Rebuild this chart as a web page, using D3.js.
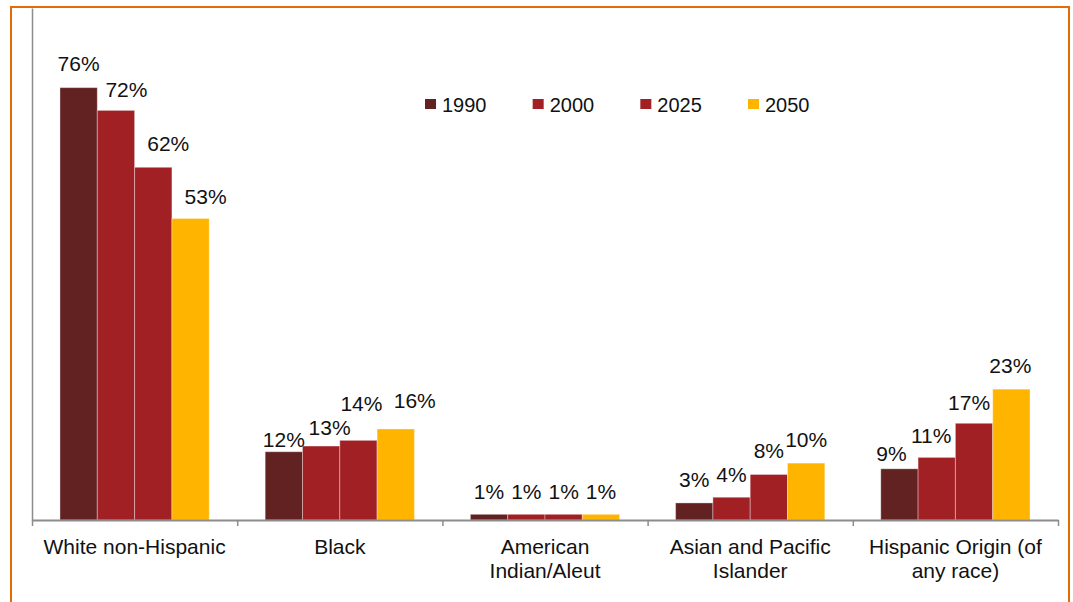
<!DOCTYPE html>
<html><head><meta charset="utf-8">
<script src="https://cdn.jsdelivr.net/npm/d3@7/dist/d3.min.js"></script>
<style>
html,body{margin:0;padding:0;background:#fff;}
svg{display:block;font-family:"Liberation Sans",Arial,sans-serif;}
</style></head>
<body>
<svg id="chart" width="1073" height="602"></svg>
<script>
const categories = [["White non-Hispanic"], ["Black"], ["American", "Indian/Aleut"], ["Asian and Pacific", "Islander"], ["Hispanic Origin (of", "any race)"]];
const seriesNames = ["1990", "2000", "2025", "2050"];
const v1990 = [0.76, 0.12, 0.01, 0.03, 0.09];
const v2000 = [0.72, 0.13, 0.01, 0.04, 0.11];
const v2025 = [0.62, 0.14, 0.01, 0.08, 0.17];
const v2050 = [0.53, 0.16, 0.01, 0.10, 0.23];
const colors = ["#622222", "#A02024", "#A02024", "#FFB500"];

// manual label nudges (as in the original, where labels were dragged to avoid overlap)
// [dx, gap above bar] per series, per category
const labelNudge = [
  [[0, 17], [0, 5], [0, 15], [0, 16], [-8, 8]],
  [[10.5, 13], [8.5, 11], [0, 15], [0, 15], [-5.5, 14]],
  [[15, 16], [3, 29], [0, 15], [0, 16], [-5, 13]],
  [[15, 14], [19, 21], [0, 15], [0, 16], [-1, 16]]
];

const seriesValues = [v1990, v2000, v2025, v2050];
const svg = d3.select("#chart");

// orange frame
svg.append("rect").attr("x", 11).attr("y", 7).attr("width", 1058).attr("height", 620)
  .attr("fill", "none").attr("stroke", "#E36C09").attr("stroke-width", 2);

const catIdx = d3.range(categories.length);
const x0 = d3.scaleBand().domain(catIdx).range([32, 1058]).paddingInner(0).paddingOuter(0);
const x1 = d3.scaleBand().domain(d3.range(seriesNames.length)).range([0, x0.bandwidth()]).paddingInner(0).paddingOuter(0.75);
const y = d3.scaleLinear().domain([0, 0.9]).range([520, 8]);

// bars
catIdx.forEach(ci => {
  const g = svg.append("g").attr("transform", `translate(${x0(ci)},0)`);
  seriesValues.forEach((vals, si) => {
    g.append("rect")
      .attr("x", x1(si)).attr("y", y(vals[ci]))
      .attr("width", x1.bandwidth()).attr("height", y(0) - y(vals[ci]))
      .attr("fill", colors[si])
      .attr("stroke", "rgba(255,255,255,0.35)").attr("stroke-width", 1);
  });
});
catIdx.forEach(ci => {
  const g = svg.append("g").attr("transform", `translate(${x0(ci)},0)`);
  seriesValues.forEach((vals, si) => {
    const [dx, gap] = labelNudge[si][ci];
    g.append("text")
      .attr("x", x1(si) + x1.bandwidth() / 2 + dx).attr("y", y(vals[ci]) - gap)
      .attr("text-anchor", "middle").attr("font-size", 21).attr("fill", "#111")
      .text(d3.format(".0%")(vals[ci]));
  });
});

// y axis line
const yAxis = d3.axisLeft(y).tickValues([]).tickSizeOuter(0);
const yg = svg.append("g").attr("transform", "translate(32,0)").call(yAxis);
yg.select(".domain").attr("stroke", "#8c8c8c").attr("stroke-width", 1.5);

// x axis with boundary ticks
const xb = d3.scaleLinear().domain([0, categories.length]).range([32, 1058]);
const xAxis = d3.axisBottom(xb).tickValues(d3.range(categories.length + 1)).tickFormat("").tickSize(6).tickSizeOuter(0);
const xg = svg.append("g").attr("transform", "translate(0,520)").call(xAxis);
xg.select(".domain").attr("stroke", "#8c8c8c").attr("stroke-width", 2);
xg.selectAll(".tick line").attr("stroke", "#8c8c8c").attr("stroke-width", 1.5);

// category labels
const labAxis = d3.axisBottom(x0).tickSize(0).tickFormat("");
const lg = svg.append("g").attr("transform", "translate(0,520)").call(labAxis);
lg.select(".domain").remove();
lg.selectAll(".tick").each(function(ci) {
  const t = d3.select(this).append("text").attr("fill", "#111").attr("font-size", 21)
    .attr("text-anchor", "middle");
  categories[ci].forEach((line, li) => {
    t.append("tspan").attr("x", 0).attr("y", 34 + li * 24).text(line);
  });
});

// legend
const legX = d3.scalePoint().domain(seriesNames).range([425, 748]);
const leg = svg.append("g");
seriesNames.forEach((n, i) => {
  leg.append("rect").attr("x", legX(n)).attr("y", 99).attr("width", 11).attr("height", 10).attr("fill", colors[i]);
  leg.append("text").attr("x", legX(n) + 17).attr("y", 112).attr("font-size", 20).attr("fill", "#111").text(n);
});
</script>
</body></html>
